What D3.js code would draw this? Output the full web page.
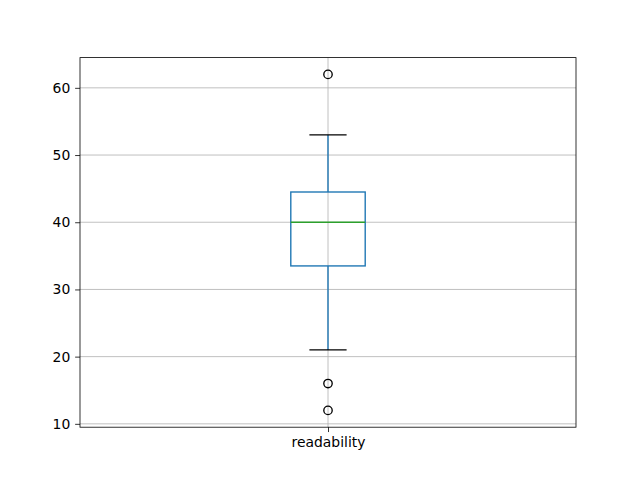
<!DOCTYPE html>
<html>
<head>
<meta charset="utf-8">
<script src="https://cdn.jsdelivr.net/npm/d3@7"></script>
<style>
  body { margin: 0; background: #fff; }
  text { font-family: "DejaVu Sans", sans-serif; }
</style>
</head>
<body>
<div id="chart"></div>
<script>
// box stats
var categories = ["readability"];
var q1Values = [33.5];
var medianValues = [40];
var q3Values = [44.5];
var whiskerLow = [21];
var whiskerHigh = [53];
var outlierValues = [[62, 16, 12]];
var yTicks = [10, 20, 30, 40, 50, 60];

// layout like matplotlib defaults
var margin = { top: 57.6, right: 64, bottom: 52.8, left: 80 },
    width = 640 - margin.left - margin.right,
    height = 480 - margin.top - margin.bottom;

var svg = d3.select("#chart")
    .append("svg")
    .attr("width", 640)
    .attr("height", 480)
    .append("g")
    .attr("transform", "translate(" + margin.left + "," + margin.top + ")");

// x: positions 1..n, xlim 0.5..n+0.5
var x = d3.scaleLinear()
    .domain([0.5, categories.length + 0.5])
    .range([0, width]);

var y = d3.scaleLinear()
    .domain([9.5, 64.5])
    .range([height, 0]);

var gridColor = "#b0b0b0";

// grid lines
svg.append("g")
    .selectAll("line")
    .data(yTicks)
    .enter().append("line")
    .attr("x1", 0).attr("x2", width)
    .attr("y1", function (d) { return y(d); })
    .attr("y2", function (d) { return y(d); })
    .attr("stroke", gridColor)
    .attr("stroke-width", 0.8);

svg.append("g")
    .selectAll("line")
    .data(categories)
    .enter().append("line")
    .attr("x1", function (d, i) { return x(i + 1); })
    .attr("x2", function (d, i) { return x(i + 1); })
    .attr("y1", 0).attr("y2", height)
    .attr("stroke", gridColor)
    .attr("stroke-width", 0.8);

var boxW = x(1.075) - x(0.925);
var capW = boxW / 2;
var lw = 1.39;

var boxes = svg.selectAll(".box")
    .data(categories)
    .enter().append("g")
    .attr("class", "box");

// whiskers
boxes.append("line")
    .attr("x1", function (d, i) { return x(i + 1); })
    .attr("x2", function (d, i) { return x(i + 1); })
    .attr("y1", function (d, i) { return y(q3Values[i]); })
    .attr("y2", function (d, i) { return y(whiskerHigh[i]); })
    .attr("stroke", "#1f77b4").attr("stroke-width", lw);
boxes.append("line")
    .attr("x1", function (d, i) { return x(i + 1); })
    .attr("x2", function (d, i) { return x(i + 1); })
    .attr("y1", function (d, i) { return y(q1Values[i]); })
    .attr("y2", function (d, i) { return y(whiskerLow[i]); })
    .attr("stroke", "#1f77b4").attr("stroke-width", lw);

// caps
[whiskerHigh, whiskerLow].forEach(function (arr) {
    boxes.append("line")
        .attr("x1", function (d, i) { return x(i + 1) - capW / 2; })
        .attr("x2", function (d, i) { return x(i + 1) + capW / 2; })
        .attr("y1", function (d, i) { return y(arr[i]); })
        .attr("y2", function (d, i) { return y(arr[i]); })
        .attr("stroke", "#000").attr("stroke-width", lw);
});

// box
boxes.append("rect")
    .attr("x", function (d, i) { return x(i + 1) - boxW / 2; })
    .attr("width", boxW)
    .attr("y", function (d, i) { return y(q3Values[i]); })
    .attr("height", function (d, i) { return y(q1Values[i]) - y(q3Values[i]); })
    .attr("fill", "none")
    .attr("stroke", "#1f77b4").attr("stroke-width", lw);

// median
boxes.append("line")
    .attr("x1", function (d, i) { return x(i + 1) - boxW / 2; })
    .attr("x2", function (d, i) { return x(i + 1) + boxW / 2; })
    .attr("y1", function (d, i) { return y(medianValues[i]); })
    .attr("y2", function (d, i) { return y(medianValues[i]); })
    .attr("stroke", "#2ca02c").attr("stroke-width", lw);

// outliers
boxes.each(function (d, i) {
    d3.select(this).selectAll("circle")
        .data(outlierValues[i])
        .enter().append("circle")
        .attr("cx", x(i + 1))
        .attr("cy", function (v) { return y(v); })
        .attr("r", 4.2)
        .attr("fill", "none")
        .attr("stroke", "#000")
        .attr("stroke-width", lw * 0.75 + 0.3);
});

// axes
var yAxis = svg.append("g")
    .call(d3.axisLeft(y).tickValues(yTicks).tickSize(4.86).tickPadding(4.86).tickFormat(d3.format("d")));
var xAxis = svg.append("g")
    .attr("transform", "translate(0," + height + ")")
    .call(d3.axisBottom(x).tickValues(categories.map(function (d, i) { return i + 1; }))
        .tickSize(4.86).tickPadding(4.86)
        .tickFormat(function (d) { return categories[d - 1]; }));

[xAxis, yAxis].forEach(function (ax) {
    ax.select(".domain").remove();
    ax.selectAll("line").attr("stroke", "#000").attr("stroke-width", 0.8);
    ax.selectAll("text").style("font-size", "13.9px").attr("fill", "#000")
        .style("font-family", "'DejaVu Sans', sans-serif");
});

// frame
svg.append("rect")
    .attr("width", width).attr("height", height)
    .attr("fill", "none")
    .attr("stroke", "#000")
    .attr("stroke-width", 0.8);
</script>
</body>
</html>
